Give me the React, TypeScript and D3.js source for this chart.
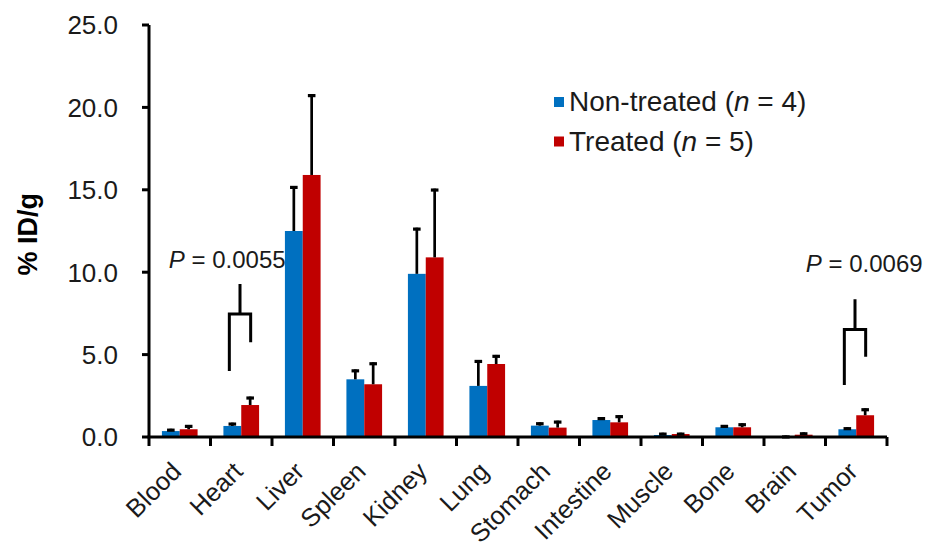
import { useEffect, useRef } from "react";
import * as d3 from "d3";

const CATEGORIES = [
  "Blood", "Heart", "Liver", "Spleen", "Kidney", "Lung",
  "Stomach", "Intestine", "Muscle", "Bone", "Brain", "Tumor",
];

const NON_TREATED = [0.36, 0.67, 12.5, 3.5, 9.9, 3.1, 0.69, 1.03, 0.12, 0.59, 0.05, 0.47];
const NON_TREATED_SD = [0.14, 0.2, 2.73, 0.6, 2.8, 1.57, 0.2, 0.17, 0.14, 0.14, 0.04, 0.12];
const TREATED = [0.47, 1.94, 15.9, 3.2, 10.9, 4.43, 0.57, 0.89, 0.18, 0.59, 0.14, 1.32];
const TREATED_SD = [0.26, 0.51, 4.9, 1.33, 4.17, 0.55, 0.42, 0.43, 0.08, 0.24, 0.14, 0.42];

const Y_TICKS = [0, 5, 10, 15, 20, 25];

const SERIES_LABELS = ["Non-treated", "Treated"];
const SERIES_N = [4, 5];
const COLORS = ["#0070c0", "#c00000"];

// significance brackets (values in %ID/g units)
const SIG_CATEGORIES = ["Heart", "Tumor"];
const SIG_P = ["0.0055", "0.0069"];
const SIG_LEFT_LOW = [4.0, 3.16];
const SIG_RIGHT_LOW = [5.75, 4.87];
const SIG_TOP = [7.46, 6.53];
const SIG_STEM = [9.28, 8.36];
const SIG_TEXT = [10.25, 10.03];

const W = 925;
const H = 548;

export default function App() {
  const svgRef = useRef<SVGSVGElement>(null);

  useEffect(() => {
    if (!svgRef.current) return;
    const svg = d3.select(svgRef.current);
    svg.selectAll("*").remove();

    const margin = { top: 25, right: 38, bottom: 111, left: 149 };
    const width = W - margin.left - margin.right;
    const height = H - margin.top - margin.bottom;
    const font = "Arial, 'Liberation Sans', sans-serif";

    const g = svg.append("g").attr("transform", `translate(${margin.left},${margin.top})`);

    const x = d3.scaleBand().domain(CATEGORIES).range([0, width]).paddingInner(0.42).paddingOuter(0.21);
    const step = x.step();
    const xs = d3.scaleBand().domain(["0", "1"]).range([0, x.bandwidth()]);
    const y = d3.scaleLinear().domain([0, 25]).range([height, 0]);

    const series = [
      { vals: NON_TREATED, sd: NON_TREATED_SD },
      { vals: TREATED, sd: TREATED_SD },
    ];

    series.forEach((s, si) => {
      CATEGORIES.forEach((c, i) => {
        const bx = (x(c) ?? 0) + (xs(String(si)) ?? 0);
        const bw = xs.bandwidth();
        g.append("rect")
          .attr("x", bx).attr("y", y(s.vals[i]))
          .attr("width", bw).attr("height", y(0) - y(s.vals[i]))
          .attr("fill", COLORS[si]);
        const cx = bx + bw / 2;
        const top = y(s.vals[i] + s.sd[i]);
        g.append("line")
          .attr("x1", cx).attr("x2", cx)
          .attr("y1", y(s.vals[i])).attr("y2", top)
          .attr("stroke", "#000").attr("stroke-width", 2.7);
        g.append("line")
          .attr("x1", cx - 3.8).attr("x2", cx + 3.8)
          .attr("y1", top + 1.4).attr("y2", top + 1.4)
          .attr("stroke", "#000").attr("stroke-width", 3.2);
      });
    });

    // y axis
    g.append("line")
      .attr("x1", 0).attr("x2", 0).attr("y1", 0).attr("y2", height)
      .attr("stroke", "#000").attr("stroke-width", 3);
    Y_TICKS.forEach((t) => {
      g.append("line")
        .attr("x1", -7).attr("x2", 0).attr("y1", y(t)).attr("y2", y(t))
        .attr("stroke", "#000").attr("stroke-width", 3);
      g.append("text")
        .attr("x", -31).attr("y", y(t)).attr("dy", "0.36em")
        .attr("text-anchor", "end")
        .attr("font-family", font).attr("font-size", 26).attr("fill", "#1a1a1a")
        .text(d3.format(".1f")(t));
    });

    // x axis
    g.append("line")
      .attr("x1", -1.5).attr("x2", width).attr("y1", height).attr("y2", height)
      .attr("stroke", "#000").attr("stroke-width", 3);
    d3.range(CATEGORIES.length + 1).forEach((i) => {
      g.append("line")
        .attr("x1", i * step).attr("x2", i * step)
        .attr("y1", height).attr("y2", height + 9)
        .attr("stroke", "#000").attr("stroke-width", 3);
    });
    CATEGORIES.forEach((c) => {
      const cx = (x(c) ?? 0) + x.bandwidth() / 2;
      g.append("text")
        .attr("transform", `translate(${cx + 3},${height + 36}) rotate(-45)`)
        .attr("text-anchor", "end")
        .attr("font-family", font).attr("font-size", 25.5).attr("fill", "#1a1a1a")
        .text(c);
    });

    // y axis title
    svg.append("text")
      .attr("transform", `translate(37,${margin.top + y(12.3)}) rotate(-90)`)
      .attr("text-anchor", "middle")
      .attr("font-family", font).attr("font-size", 27).attr("font-weight", "bold")
      .text("% ID/g");

    // significance brackets
    SIG_CATEGORIES.forEach((c, i) => {
      const x0 = x(c) ?? 0;
      const left = x0 + xs.bandwidth() / 2 - 3;
      const right = x0 + xs.bandwidth() * 1.5 + 0.5;
      const mid = (left + right) / 2;
      const path = d3.path();
      path.moveTo(left, y(SIG_LEFT_LOW[i]));
      path.lineTo(left, y(SIG_TOP[i]));
      path.lineTo(right, y(SIG_TOP[i]));
      path.lineTo(right, y(SIG_RIGHT_LOW[i]));
      path.moveTo(mid, y(SIG_TOP[i]));
      path.lineTo(mid, y(SIG_STEM[i]));
      g.append("path")
        .attr("d", path.toString())
        .attr("fill", "none").attr("stroke", "#000").attr("stroke-width", 3)
        .attr("stroke-linejoin", "miter");
      const t = g.append("text")
        .attr("x", x0 + x.bandwidth() / 2 + (i === 0 ? -14 : 8))
        .attr("y", y(SIG_TEXT[i]))
        .attr("text-anchor", "middle")
        .attr("font-family", font).attr("font-size", 24).attr("fill", "#1a1a1a");
      t.append("tspan").attr("font-style", "italic").text("P");
      t.append("tspan").text(` = ${SIG_P[i]}`);
    });

    // legend
    const legend = svg.append("g").attr("transform", "translate(554,96)");
    SERIES_LABELS.forEach((lab, i) => {
      legend.append("rect")
        .attr("x", 0).attr("y", i * 39.5 + 1).attr("width", 10).attr("height", 10)
        .attr("fill", COLORS[i]);
      const t = legend.append("text")
        .attr("x", 15).attr("y", i * 39.5 + 15)
        .attr("font-family", font).attr("font-size", 28).attr("fill", "#1a1a1a");
      t.append("tspan").text(`${lab} (`);
      t.append("tspan").attr("font-style", "italic").text("n");
      t.append("tspan").text(` = ${SERIES_N[i]})`);
    });
  }, []);

  return (
    <div style={{ position: "absolute", left: 0, top: 0, background: "#fff" }}>
      <svg ref={svgRef} width={W} height={H} style={{ display: "block" }} />
    </div>
  );
}
